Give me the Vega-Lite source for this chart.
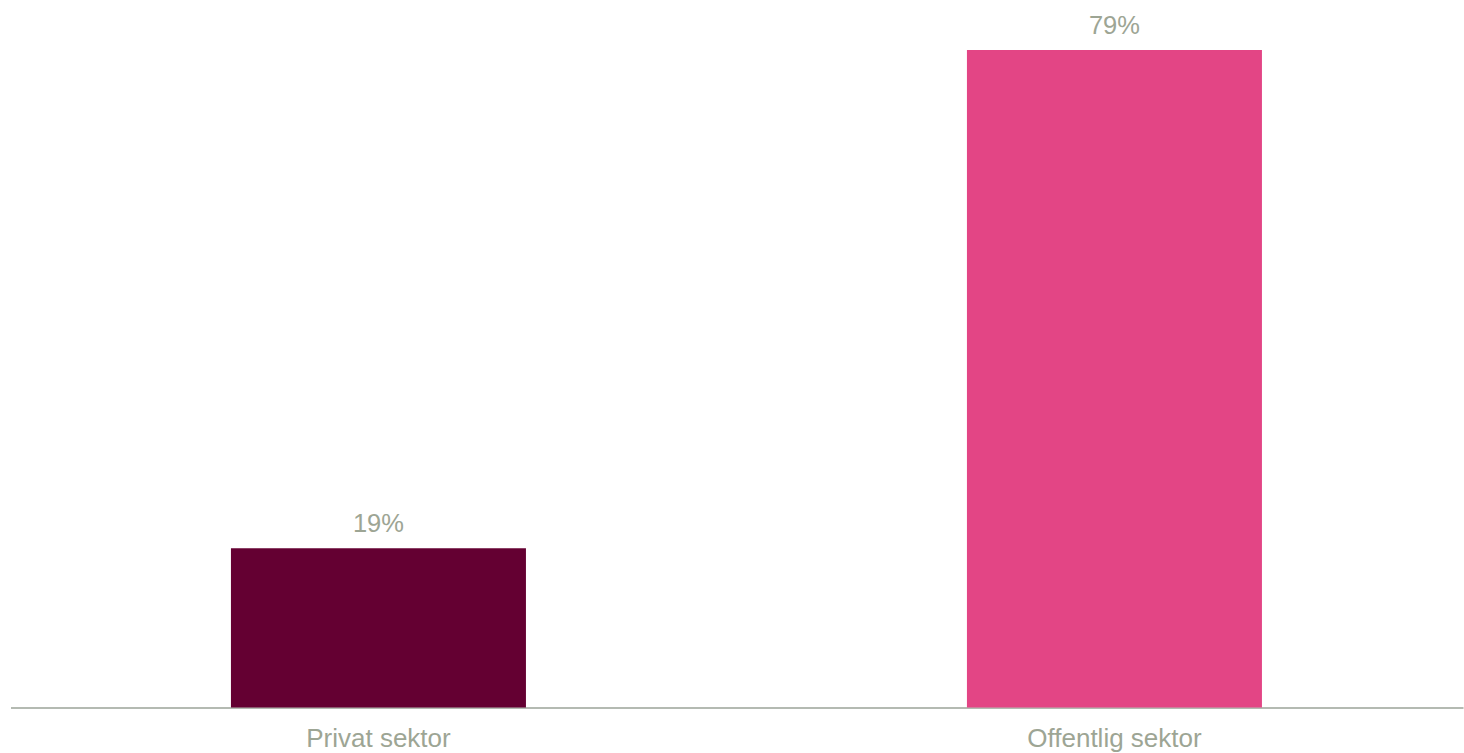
{
  "$schema": "https://vega.github.io/schema/vega-lite/v6.json",
  "autosize": "none",
  "width": 1452.5,
  "height": 707.5,
  "padding": {"left": 10.5, "top": 0, "right": 1, "bottom": 45.5},
  "background": "#ffffff",
  "config": {"view": {"stroke": null}, "font": "Liberation Sans"},
  "data": {"values": [
    {"sektor": "Privat sektor", "andel": 0.19},
    {"sektor": "Offentlig sektor", "andel": 0.785}
  ]},
  "encoding": {
    "x": {"field": "sektor", "type": "nominal", "sort": null,
      "scale": {"paddingInner": 0.59918, "paddingOuter": 0.28635, "align": 0.523},
      "axis": {"title": null, "ticks": false, "labelAngle": 0, "labelFont": "Liberation Sans", "labelFontSize": 26, "labelColor": "#9DA594", "labelBaseline": "alphabetic", "labelPadding": 39, "domainColor": "#B4BAB2", "domainWidth": 2}},
    "y": {"field": "andel", "type": "quantitative", "scale": {"domain": [0, 0.8447], "nice": false, "zero": true}, "axis": null}
  },
  "layer": [
    {"mark": {"type": "bar"},
     "encoding": {"color": {"field": "sektor", "type": "nominal", "legend": null, "scale": {"domain": ["Privat sektor", "Offentlig sektor"], "range": ["#640032", "#E34585"]}}}},
    {"mark": {"type": "text", "baseline": "alphabetic", "dy": -16, "fontSize": 25.5, "font": "Liberation Sans", "color": "#9DA594"},
     "encoding": {"text": {"field": "andel", "type": "quantitative", "format": ".0%"}}}
  ]
}
